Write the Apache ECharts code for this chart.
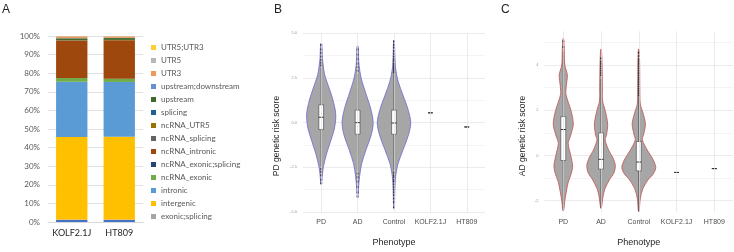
<!DOCTYPE html>
<html>
<head>
<meta charset="utf-8">
<script src="https://cdn.jsdelivr.net/npm/echarts@6/dist/echarts.min.js"></script>
<style>
  html, body { margin: 0; padding: 0; background: #fff; }
  #main { width: 734px; height: 252px; }
</style>
</head>
<body>
<div id="main"></div>
<script>
// ---- panel A: share of variant annotations per cell line (%), bottom to top
var cellLines = ['KOLF2.1J', 'HT809'];
var annotations = ['downstream', 'exonic', 'exonic;splicing', 'intergenic', 'intronic', 'ncRNA_exonic',
  'ncRNA_exonic;splicing', 'ncRNA_intronic', 'ncRNA_splicing', 'ncRNA_UTR5', 'splicing', 'upstream',
  'upstream;downstream', 'UTR3', 'UTR5', 'UTR5;UTR3'];
var kolfShare = [1.1, 0.2, 0.1, 44.3, 29.7, 2.0, 0.05, 20.1, 0.05, 0.1, 0.05, 1.0, 0.1, 0.9, 0.2, 0.05];
var ht809Share = [1.1, 0.2, 0.1, 44.5, 29.4, 1.7, 0.05, 20.65, 0.05, 0.1, 0.05, 1.0, 0.1, 0.75, 0.2, 0.05];
var pctTicks = [0, 10, 20, 30, 40, 50, 60, 70, 80, 90, 100];

// ---- panels B and C: groups on the x axis
var phenotypes = ['PD', 'AD', 'Control', 'KOLF2.1J', 'HT809'];

// PD genetic risk score (B): violin outline as [score, relative width]
var pdScorePD = [[4.42, 0.03], [3.6, 0.07], [3.2, 0.12], [2.67, 0.21], [2.13, 0.40], [1.41, 0.66], [0.71, 0.84],
  [0.25, 0.87], [-0.37, 0.78], [-1.1, 0.54], [-1.81, 0.30], [-2.53, 0.12], [-3.0, 0.06], [-3.43, 0.02]];
var pdScoreAD = [[4.28, 0.03], [3.6, 0.06], [3.2, 0.09], [2.5, 0.21], [1.5, 0.54], [0.8, 0.78], [0.0, 0.93],
  [-0.7, 0.81], [-1.5, 0.51], [-2.3, 0.24], [-3.0, 0.12], [-3.6, 0.06], [-4.14, 0.02]];
var pdScoreControl = [[4.6, 0.02], [3.8, 0.05], [3.0, 0.10], [2.3, 0.25], [1.5, 0.55], [0.8, 0.82], [0.0, 1.0],
  [-0.7, 0.86], [-1.5, 0.55], [-2.3, 0.24], [-3.0, 0.10], [-3.8, 0.05], [-4.77, 0.02]];
// [lower whisker, Q1, median, Q3, upper whisker]
var pdScoreBoxes = [[-2.45, -0.38, 0.3, 1.0, 3.07], [-2.67, -0.65, 0.0, 0.7, 2.72], [-2.67, -0.65, -0.02, 0.7, 2.72],
  [0.55, 0.55, 0.55, 0.55, 0.55], [-0.24, -0.24, -0.24, -0.24, -0.24]];
var pdOutPD = [3.2, 3.35, 3.5, 3.7, 3.9, 4.1, 4.35, -2.6, -2.75, -2.95, -3.2, -3.4];
var pdOutAD = [2.9, 3.1, 3.3, 3.55, 3.8, 4.1, -2.85, -3.05, -3.3, -3.6, -3.9, -4.15];
var pdOutControl = [2.8, 2.9, 3.0, 3.1, 3.2, 3.3, 3.45, 3.55, 3.7, 3.85, 4.0, 4.2, 4.35, 4.55,
  -2.8, -2.95, -3.05, -3.2, -3.3, -3.45, -3.6, -3.75, -3.9, -4.05, -4.25, -4.45, -4.75];

// AD genetic risk score (C)
var adScorePD = [[5.17, 0.02], [4.6, 0.06], [4.0, 0.09], [3.56, 0.24], [3.1, 0.18], [2.7, 0.16], [2.0, 0.45],
  [1.4, 0.59], [0.9, 0.44], [0.54, 0.29], [0.0, 0.44], [-0.46, 0.55], [-0.8, 0.47], [-1.18, 0.29],
  [-1.6, 0.18], [-2.0, 0.09], [-2.44, 0.02]];
var adScoreAD = [[4.7, 0.02], [4.0, 0.06], [3.0, 0.08], [2.41, 0.09], [2.0, 0.24], [1.4, 0.39], [0.9, 0.32],
  [0.69, 0.24], [0.2, 0.47], [-0.1, 0.70], [-0.46, 0.84], [-0.8, 0.74], [-1.03, 0.53], [-1.45, 0.24],
  [-1.8, 0.12], [-2.33, 0.02]];
var adScoreControl = [[4.7, 0.02], [4.0, 0.05], [3.0, 0.06], [2.27, 0.09], [1.9, 0.24], [1.4, 0.39], [0.95, 0.29],
  [0.69, 0.21], [0.2, 0.53], [-0.15, 0.82], [-0.53, 1.0], [-0.85, 0.82], [-1.03, 0.59], [-1.47, 0.24],
  [-1.9, 0.09], [-2.47, 0.02]];
var adScoreBoxes = [[-2.44, -0.22, 1.15, 1.72, 4.6], [-2.33, -0.6, -0.17, 1.0, 3.4], [-2.47, -0.68, -0.29, 0.62, 2.57],
  [-0.75, -0.75, -0.75, -0.75, -0.75], [-0.58, -0.58, -0.58, -0.58, -0.58]];
var adOutPD = [4.8, 5.05];
var adOutAD = [3.55, 3.65, 3.75, 3.85, 3.95, 4.05, 4.15, 4.3];
var adOutControl = [2.65, 2.75, 2.85, 2.95, 3.05, 3.15, 3.25, 3.35, 3.45, 3.55, 3.65, 3.75, 3.85, 3.95,
  4.05, 4.15, 4.25, 4.4, 4.55];

// ---- styling
var excelColors = ['#4472C4', '#ED7D31', '#A5A5A5', '#FFC000', '#5B9BD5', '#70AD47', '#264478', '#9E480E',
  '#636363', '#997300', '#255E91', '#43682B', '#698ED0', '#F1975A', '#B7B7B7', '#FFCD33'];
var excelFont = 'Lato';
var ggFont = 'Liberation Sans';
var gridMajor = '#e2e2e2';
var gridMinor = '#efefef';

var chart = echarts.init(document.getElementById('main'));

function toPoints(lists) {
  var pts = [];
  lists.forEach(function (vals, g) {
    vals.forEach(function (v) { pts.push([g, v]); });
  });
  return pts;
}

function violinItem(shapes, boxes, lineColor, widthScale) {
  return function (params, api) {
    var g = api.value(0);
    var band = api.size([1, 0])[0];
    var cx = api.coord([g, 0])[0];
    var y = function (v) { return api.coord([g, v])[1]; };
    var kids = [];
    var shape = shapes[g];
    if (shape && shape.length) {
      var pts = [];
      shape.forEach(function (p) { pts.push([cx + p[1] * widthScale * band, y(p[0])]); });
      for (var k = shape.length - 1; k >= 0; k--) {
        pts.push([cx - shape[k][1] * widthScale * band, y(shape[k][0])]);
      }
      kids.push({ type: 'polygon', shape: { points: pts, smooth: 0.3 },
        style: { fill: '#a6a6a6', stroke: lineColor, lineWidth: 0.8 } });
    }
    var b = boxes[g];
    var hw = band * 0.065;
    kids.push({ type: 'line', shape: { x1: cx, y1: y(b[0]), x2: cx, y2: y(b[4]) },
      style: { stroke: '#222', lineWidth: 0.6 } });
    kids.push({ type: 'rect', shape: { x: cx - hw, y: y(b[3]), width: 2 * hw, height: y(b[1]) - y(b[3]) },
      style: { fill: '#fff', stroke: '#222', lineWidth: 0.5 } });
    kids.push({ type: 'line', shape: { x1: cx - hw, y1: y(b[2]), x2: cx + hw, y2: y(b[2]) },
      style: { stroke: '#222', lineWidth: 0.9 } });
    return { type: 'group', children: kids };
  };
}

function phenoXAxis(grid) {
  return {
    type: 'category', gridIndex: grid, data: phenotypes,
    axisLine: { show: false }, axisTick: { show: false }, splitLine: { show: false },
    axisLabel: { interval: 0, fontSize: 7, color: '#4d4d4d', margin: 7, fontFamily: ggFont },
    name: 'Phenotype', nameLocation: 'middle', nameGap: 26,
    nameTextStyle: { fontSize: 9, color: '#262626', fontFamily: ggFont }
  };
}

function vGridSeries(axis) {
  return {
    type: 'scatter', xAxisIndex: axis, yAxisIndex: axis, data: [], z: 1, silent: true,
    markLine: {
      silent: true, symbol: 'none', label: { show: false },
      lineStyle: { color: gridMajor, width: 0.7, type: 'solid' },
      data: phenotypes.map(function (p) { return { xAxis: p }; })
    }
  };
}

var legendNames = annotations.slice(2).reverse();

var barSeries = annotations.map(function (name, i) {
  return {
    type: 'bar', name: name, stack: 'share', xAxisIndex: 0, yAxisIndex: 0, barWidth: '66%',
    itemStyle: { color: excelColors[i] },
    data: [kolfShare[i], ht809Share[i]]
  };
});

var option = {
  animation: false,
  backgroundColor: '#fff',
  textStyle: { fontFamily: ggFont },
  grid: [
    { left: 48, right: 591, top: 36, bottom: 30 },
    { left: 303, right: 249, top: 33.3, bottom: 32.7 },
    { left: 544.4, right: 0.8, top: 31.2, bottom: 35.4 }
  ],
  legend: {
    data: legendNames, orient: 'vertical', left: 146, top: 38,
    icon: 'rect', itemWidth: 5, itemHeight: 5, itemGap: 4, selectedMode: false,
    textStyle: { fontSize: 8, lineHeight: 9, color: '#595959', fontFamily: excelFont }
  },
  xAxis: [
    {
      type: 'category', gridIndex: 0, data: cellLines,
      axisLine: { lineStyle: { color: '#d9d9d9' } }, axisTick: { show: false },
      axisLabel: { interval: 0, fontSize: 9, color: '#262626', margin: 7, fontFamily: excelFont }
    },
    phenoXAxis(1),
    phenoXAxis(2)
  ],
  yAxis: [
    {
      type: 'value', gridIndex: 0, min: pctTicks[0], max: pctTicks[pctTicks.length - 1], interval: pctTicks[1] - pctTicks[0],
      axisLine: { show: false }, axisTick: { show: false },
      axisLabel: { formatter: '{value}%', fontSize: 8, color: '#595959', margin: 8, fontFamily: excelFont },
      splitLine: { lineStyle: { color: '#d9d9d9', width: 0.8 } }
    },
    {
      type: 'value', gridIndex: 1, min: -5, max: 5, interval: 1.25,
      axisLine: { show: false }, axisTick: { show: false },
      axisLabel: {
        fontSize: 4, color: '#9a9a9a', margin: 6,
        formatter: function (v) { return Math.abs(v % 2.5) < 1e-9 ? v.toFixed(1) : ''; }
      },
      splitLine: { lineStyle: { color: [gridMajor, gridMinor], width: 0.7 } }
    },
    {
      type: 'value', gridIndex: 2, min: -2.5, max: 5.5, interval: 0.5,
      axisLine: { show: false }, axisTick: { show: false },
      axisLabel: {
        fontSize: 4, color: '#9a9a9a', margin: 6,
        formatter: function (v) { return Math.abs(v % 2) < 1e-9 ? String(v === 0 ? 0 : v) : ''; }
      },
      splitLine: { lineStyle: { color: ['rgba(0,0,0,0)', gridMajor, 'rgba(0,0,0,0)', gridMinor], width: 0.7 } }
    }
  ],
  graphic: [
    { type: 'text', left: 2, top: 4, style: { text: 'A', fontSize: 12, fill: '#222', fontFamily: ggFont } },
    { type: 'text', left: 274, top: 4, style: { text: 'B', fontSize: 12, fill: '#222', fontFamily: ggFont } },
    { type: 'text', left: 501, top: 4, style: { text: 'C', fontSize: 12, fill: '#222', fontFamily: ggFont } },
    { type: 'text', x: 277, y: 136, rotation: Math.PI / 2,
      style: { text: 'PD genetic risk score', fontSize: 8.5, fill: '#262626', fontFamily: ggFont, align: 'center', verticalAlign: 'middle' } },
    { type: 'text', x: 523, y: 136, rotation: Math.PI / 2,
      style: { text: 'AD genetic risk score', fontSize: 8.5, fill: '#262626', fontFamily: ggFont, align: 'center', verticalAlign: 'middle' } }
  ],
  series: barSeries.concat([
    vGridSeries(1),
    {
      type: 'custom', xAxisIndex: 1, yAxisIndex: 1, z: 2, silent: true,
      renderItem: violinItem([pdScorePD, pdScoreAD, pdScoreControl, [], []], pdScoreBoxes, '#6a6ad2', 0.46),
      encode: { x: 0, y: 1 },
      data: phenotypes.map(function (p, i) { return [i, pdScoreBoxes[i][2]]; })
    },
    {
      type: 'scatter', xAxisIndex: 1, yAxisIndex: 1, z: 3, silent: true, symbolSize: 2.2,
      itemStyle: { color: '#1a1a1a' },
      data: toPoints([pdOutPD, pdOutAD, pdOutControl])
    },
    vGridSeries(2),
    {
      type: 'custom', xAxisIndex: 2, yAxisIndex: 2, z: 2, silent: true,
      renderItem: violinItem([adScorePD, adScoreAD, adScoreControl, [], []], adScoreBoxes, '#c0504d', 0.45),
      encode: { x: 0, y: 1 },
      data: phenotypes.map(function (p, i) { return [i, adScoreBoxes[i][2]]; })
    },
    {
      type: 'scatter', xAxisIndex: 2, yAxisIndex: 2, z: 3, silent: true, symbolSize: 2.2,
      itemStyle: { color: '#1a1a1a' },
      data: toPoints([adOutPD, adOutAD, adOutControl])
    }
  ])
};

chart.setOption(option);
</script>
</body>
</html>
